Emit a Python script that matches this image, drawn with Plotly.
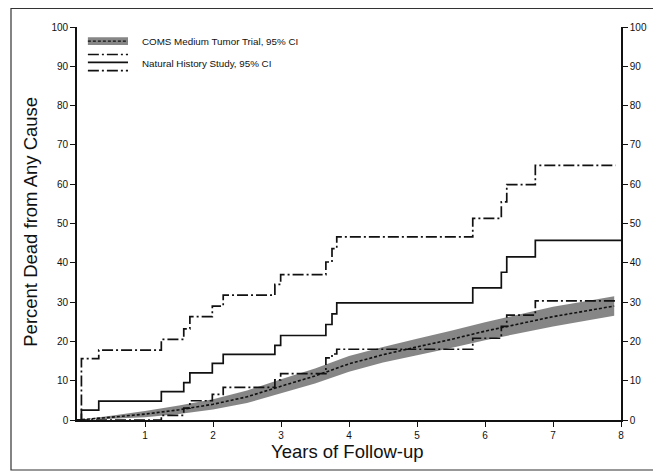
import plotly.graph_objects as go

# Natural History Study (Kaplan-Meier steps)
nhs_t = [0, 0.065, 0.32, 1.24, 1.57, 1.66, 1.99, 2.15, 2.91, 2.995, 3.66, 3.75, 3.82, 5.82, 6.24, 6.32, 6.74, 8.0]
nhs_est = [0, 2.5, 4.8, 7.2, 9.5, 12.0, 14.4, 16.7, 19.0, 21.5, 24.3, 27.0, 29.8, 33.6, 37.6, 41.5, 45.7, 45.7]
nhs_hi_t = [0, 0.065, 0.32, 1.24, 1.57, 1.66, 1.99, 2.15, 2.91, 2.995, 3.66, 3.75, 3.82, 5.82, 6.24, 6.32, 6.74, 7.92]
nhs_hi = [0, 15.6, 17.8, 20.5, 23.2, 26.3, 29.0, 31.8, 34.5, 37.0, 40.2, 43.6, 46.6, 51.3, 55.5, 59.9, 64.8, 64.8]
nhs_lo = [0, 0, 0, 1.2, 3.0, 4.9, 6.5, 8.3, 10.2, 11.8, 15.8, 16.8, 18.0, 20.8, 23.8, 26.7, 30.3, 30.3]

# COMS Medium Tumor Trial (smooth estimate with 95% CI band)
coms_t = [0, 0.25, 0.5, 1.0, 1.5, 2.0, 2.5, 3.0, 3.5, 4.0, 4.5, 5.0, 5.5, 6.0, 6.5, 7.0, 7.5, 7.9]
coms_est = [0, 0.3, 0.7, 1.5, 2.6, 4.0, 5.9, 8.6, 11.2, 14.3, 16.6, 18.6, 20.5, 22.6, 24.5, 26.3, 27.8, 29.0]
coms_hw = [0, 0.2, 0.4, 0.8, 1.1, 1.3, 1.6, 1.8, 1.9, 2.0, 2.0, 2.1, 2.2, 2.3, 2.4, 2.5, 2.5, 2.5]

x_ticks = [1, 2, 3, 4, 5, 6, 7, 8]
y_ticks = [0, 10, 20, 30, 40, 50, 60, 70, 80, 90, 100]

coms_hi = [e + h for e, h in zip(coms_est, coms_hw)]
coms_lo = [e - h for e, h in zip(coms_est, coms_hw)]

DASHDOT = "11px,3px,2px,3px"
FONT = "Liberation Sans, Arial, Helvetica, sans-serif"
BAND = "rgba(100,100,100,0.78)"

fig = go.Figure()

# COMS band
fig.add_trace(go.Scatter(x=coms_t, y=coms_lo, mode="lines", line=dict(width=0, color="#888"),
                         showlegend=False, hoverinfo="skip"))
fig.add_trace(go.Scatter(x=coms_t, y=coms_hi, mode="lines", line=dict(width=0, color="#888"),
                         fill="tonexty", fillcolor=BAND, showlegend=False, hoverinfo="skip"))
fig.add_trace(go.Scatter(x=coms_t, y=coms_est, mode="lines", line=dict(color="#111", width=1.6, dash="3px,2px"),
                         showlegend=False))

# Natural History Study
fig.add_trace(go.Scatter(x=nhs_hi_t, y=nhs_hi, mode="lines", line_shape="hv",
                         line=dict(color="#111", width=1.7, dash=DASHDOT), showlegend=False))
fig.add_trace(go.Scatter(x=nhs_hi_t, y=nhs_lo, mode="lines", line_shape="hv",
                         line=dict(color="#111", width=1.7, dash=DASHDOT), showlegend=False))
fig.add_trace(go.Scatter(x=nhs_t, y=nhs_est, mode="lines", line_shape="hv",
                         line=dict(color="#111", width=1.7), showlegend=False))

# invisible trace for the right axis
fig.add_trace(go.Scatter(x=[0], y=[0], yaxis="y2", mode="markers", marker=dict(opacity=0),
                         showlegend=False, hoverinfo="skip"))

tickfont = dict(family=FONT, size=10, color="#111")
fig.update_layout(
    width=653, height=468,
    margin=dict(l=69, r=40, t=19, b=56),
    paper_bgcolor="white", plot_bgcolor="white",
    showlegend=False,
    xaxis=dict(range=[0, 8], tickvals=x_ticks, ticktext=[str(v) for v in x_ticks],
               showgrid=False, zeroline=False, showline=True, linecolor="#111", linewidth=1.6,
               ticks="outside", ticklen=5, tickwidth=1.3, tickcolor="#111", tickfont=tickfont),
    yaxis=dict(range=[0, 100], tickvals=y_ticks, showgrid=False, zeroline=False,
               showline=True, linecolor="#111", linewidth=1.6,
               ticks="outside", ticklen=5, tickwidth=1.3, tickcolor="#111", tickfont=tickfont),
    yaxis2=dict(range=[0, 100], tickvals=y_ticks, overlaying="y", side="right",
                showgrid=False, zeroline=False, showline=True, linecolor="#111", linewidth=1.6,
                ticks="outside", ticklen=5, tickwidth=1.3, tickcolor="#111", tickfont=tickfont),
)

# Legend drawn in data coordinates
fig.add_shape(type="rect", x0=0.16, x1=0.75, y0=95.4, y1=97.4, xref="x", yref="y",
              fillcolor=BAND, line=dict(width=0))
fig.add_shape(type="line", x0=0.16, x1=0.75, y0=96.4, y1=96.4, xref="x", yref="y",
              line=dict(color="#111", width=1.4, dash="3px,2px"))
for yy, dash in [(93.0, DASHDOT), (91.0, "solid"), (88.9, DASHDOT)]:
    fig.add_shape(type="line", x0=0.16, x1=0.75, y0=yy, y1=yy, xref="x", yref="y",
                  line=dict(color="#111", width=1.6, dash=dash))

fig.add_annotation(x=0.92, y=96.3, xref="x", yref="y", text="COMS Medium Tumor Trial, 95% CI",
                   showarrow=False, xanchor="left", yanchor="middle",
                   font=dict(family=FONT, size=9.8, color="#111"))
fig.add_annotation(x=0.92, y=90.8, xref="x", yref="y", text="Natural History Study, 95% CI",
                   showarrow=False, xanchor="left", yanchor="middle",
                   font=dict(family=FONT, size=9.8, color="#111"))

# Axis titles
fig.add_annotation(x=-0.086, y=0.505, xref="paper", yref="paper", text="Percent Dead from Any Cause",
                   showarrow=False, textangle=-90, xanchor="center", yanchor="middle",
                   font=dict(family=FONT, size=18.5, color="#111"))
fig.add_annotation(x=0.498, y=-0.080, xref="paper", yref="paper", text="Years of Follow-up",
                   showarrow=False, xanchor="center", yanchor="middle",
                   font=dict(family=FONT, size=18.5, color="#111"))

# Outer frame
fig.add_shape(type="rect", xref="paper", yref="paper",
              x0=(3 - 69) / 544, x1=(647 - 69) / 544,
              y0=(412 - 462) / 393, y1=(412 - 0.5) / 393,
              line=dict(color="#333", width=1.2), fillcolor="rgba(0,0,0,0)")

fig.write_html("out.html")
